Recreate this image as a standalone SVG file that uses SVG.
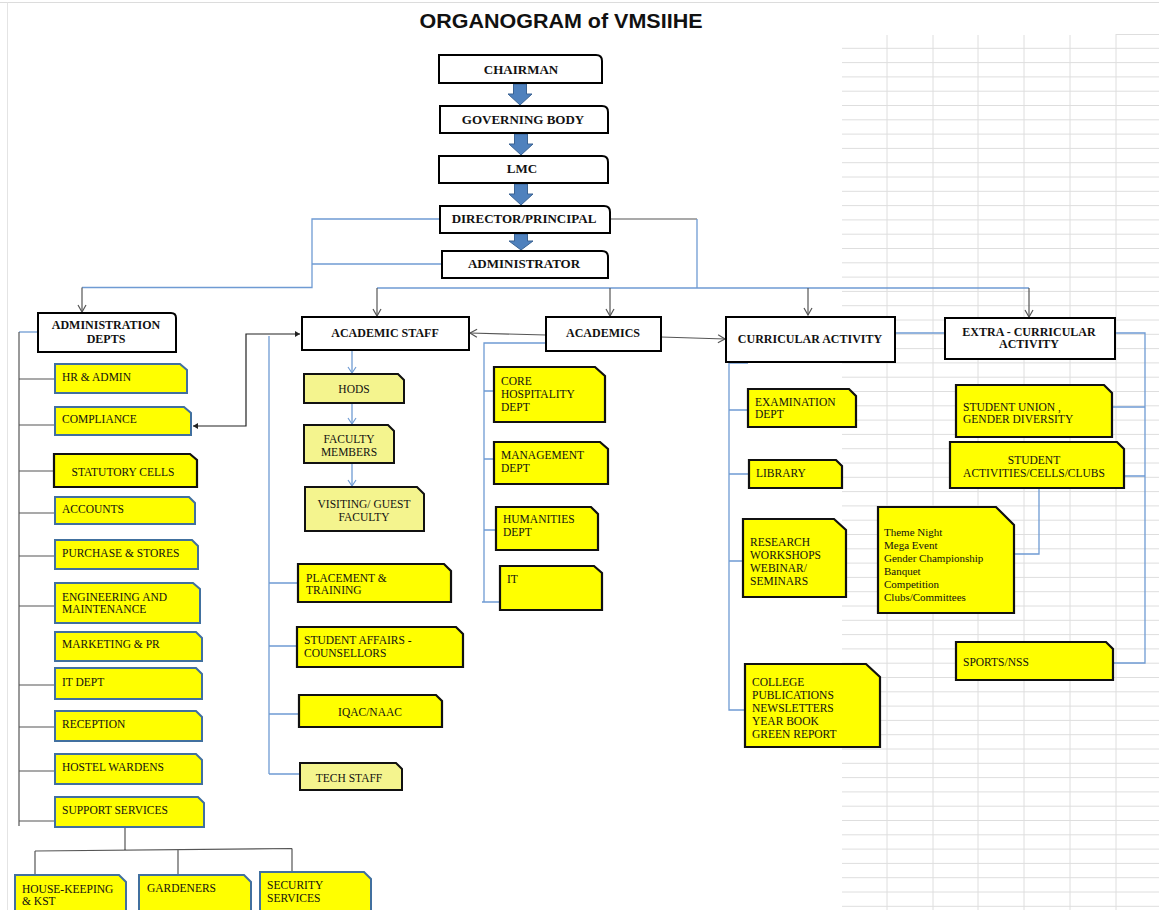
<svg xmlns="http://www.w3.org/2000/svg" width="1159" height="910" viewBox="0 0 1159 910">
<style>
.bg{fill:#fff}
.grid line{stroke:#dedede;stroke-width:1}
.hdr{fill:#fff;stroke:#000;stroke-width:2}
.y{fill:#ffff00;stroke:#111;stroke-width:2.2}
.yb{fill:#ffff00;stroke:#41709f;stroke-width:2}
.py{fill:#f4f48e;stroke:#111;stroke-width:2}
.blk{fill:#4f81bd;stroke:#3a6393;stroke-width:1}
text{font-family:"Liberation Serif","Times New Roman",serif;fill:#111}
.b{font-weight:bold;font-size:12px}
.bh{font-weight:bold;font-size:13px}
.t{font-size:11.5px}
.s{font-size:11px}
.c{text-anchor:middle}
.cb{fill:none;stroke:#6f9bd3;stroke-width:1.3}
.cg{fill:none;stroke:#555;stroke-width:1.2}
.ck{fill:none;stroke:#222;stroke-width:1.2}
</style>
<defs>
<marker id="av" markerUnits="userSpaceOnUse" markerWidth="12" markerHeight="12" refX="8" refY="5" orient="auto">
<path d="M1,1 L8,5 L1,9" fill="none" stroke="#555" stroke-width="1.2"/>
</marker>
<marker id="ab" markerUnits="userSpaceOnUse" markerWidth="12" markerHeight="12" refX="8" refY="5" orient="auto">
<path d="M2,1 L8,5 L2,9" fill="none" stroke="#6f9bd3" stroke-width="1.2"/>
</marker>
<marker id="af" markerUnits="userSpaceOnUse" markerWidth="8" markerHeight="8" refX="5" refY="3" orient="auto-start-reverse">
<path d="M0,0 L5,3 L0,6 Z" fill="#222"/>
</marker>
</defs>
<rect class="bg" x="0" y="0" width="1159" height="910"/>
<g id="sheet">
<line x1="0" y1="2.5" x2="1159" y2="2.5" stroke="#dcdcdc"/>
<line x1="7.5" y1="2.5" x2="7.5" y2="910" stroke="#e4e4e4"/>
</g>
<g class="grid" id="grid">
<line x1="887" y1="35" x2="887" y2="910"/><line x1="933" y1="35" x2="933" y2="910"/><line x1="978" y1="35" x2="978" y2="910"/><line x1="1024" y1="35" x2="1024" y2="910"/><line x1="1070" y1="35" x2="1070" y2="910"/><line x1="1116" y1="34" x2="1116" y2="910"/>
<line x1="1116" y1="34.5" x2="1159" y2="34.5"/>
<line x1="842" y1="48.3" x2="1159" y2="48.3"/><line x1="842" y1="62.6" x2="1159" y2="62.6"/><line x1="842" y1="76.9" x2="1159" y2="76.9"/><line x1="842" y1="91.2" x2="1159" y2="91.2"/><line x1="842" y1="105.5" x2="1159" y2="105.5"/><line x1="842" y1="119.8" x2="1159" y2="119.8"/><line x1="842" y1="134.1" x2="1159" y2="134.1"/><line x1="842" y1="148.4" x2="1159" y2="148.4"/><line x1="842" y1="162.7" x2="1159" y2="162.7"/><line x1="842" y1="177" x2="1159" y2="177"/><line x1="842" y1="191.3" x2="1159" y2="191.3"/><line x1="842" y1="205.6" x2="1159" y2="205.6"/><line x1="842" y1="219.9" x2="1159" y2="219.9"/><line x1="842" y1="234.2" x2="1159" y2="234.2"/><line x1="842" y1="248.5" x2="1159" y2="248.5"/><line x1="842" y1="262.8" x2="1159" y2="262.8"/><line x1="842" y1="277.1" x2="1159" y2="277.1"/><line x1="842" y1="291.4" x2="1159" y2="291.4"/><line x1="842" y1="305.7" x2="1159" y2="305.7"/><line x1="842" y1="320" x2="1159" y2="320"/><line x1="842" y1="334.3" x2="1159" y2="334.3"/><line x1="842" y1="348.6" x2="1159" y2="348.6"/><line x1="842" y1="362.9" x2="1159" y2="362.9"/><line x1="842" y1="377.2" x2="1159" y2="377.2"/><line x1="842" y1="391.5" x2="1159" y2="391.5"/><line x1="842" y1="405.8" x2="1159" y2="405.8"/><line x1="842" y1="420.1" x2="1159" y2="420.1"/><line x1="842" y1="434.4" x2="1159" y2="434.4"/><line x1="842" y1="448.7" x2="1159" y2="448.7"/><line x1="842" y1="463" x2="1159" y2="463"/><line x1="842" y1="477.3" x2="1159" y2="477.3"/><line x1="842" y1="491.6" x2="1159" y2="491.6"/><line x1="842" y1="505.9" x2="1159" y2="505.9"/><line x1="842" y1="520.2" x2="1159" y2="520.2"/><line x1="842" y1="534.5" x2="1159" y2="534.5"/><line x1="842" y1="548.8" x2="1159" y2="548.8"/><line x1="842" y1="563.1" x2="1159" y2="563.1"/><line x1="842" y1="577.4" x2="1159" y2="577.4"/><line x1="842" y1="591.7" x2="1159" y2="591.7"/><line x1="842" y1="606" x2="1159" y2="606"/><line x1="842" y1="620.3" x2="1159" y2="620.3"/><line x1="842" y1="634.6" x2="1159" y2="634.6"/><line x1="842" y1="648.9" x2="1159" y2="648.9"/><line x1="842" y1="663.2" x2="1159" y2="663.2"/><line x1="842" y1="677.5" x2="1159" y2="677.5"/><line x1="842" y1="691.8" x2="1159" y2="691.8"/><line x1="842" y1="706.1" x2="1159" y2="706.1"/><line x1="842" y1="720.4" x2="1159" y2="720.4"/><line x1="842" y1="734.7" x2="1159" y2="734.7"/><line x1="842" y1="749" x2="1159" y2="749"/><line x1="842" y1="763.3" x2="1159" y2="763.3"/><line x1="842" y1="777.6" x2="1159" y2="777.6"/><line x1="842" y1="791.9" x2="1159" y2="791.9"/><line x1="842" y1="806.2" x2="1159" y2="806.2"/><line x1="842" y1="820.5" x2="1159" y2="820.5"/><line x1="842" y1="834.8" x2="1159" y2="834.8"/><line x1="842" y1="849.1" x2="1159" y2="849.1"/><line x1="842" y1="863.4" x2="1159" y2="863.4"/><line x1="842" y1="877.7" x2="1159" y2="877.7"/><line x1="842" y1="892" x2="1159" y2="892"/><line x1="842" y1="906.3" x2="1159" y2="906.3"/>
</g>
<text x="561" y="28" text-anchor="middle" style="font-family:'Liberation Sans',Arial,sans-serif;font-weight:bold;font-size:21px" textLength="283" lengthAdjust="spacingAndGlyphs">ORGANOGRAM of VMSIIHE</text>
<g id="connectors">
<polygon class="blk" points="513.5,84 526.5,84 526.5,94 532,94 520,105 508,94 513.5,94"/>
<polygon class="blk" points="514.5,134 527.5,134 527.5,144 533,144 521,155 509,144 514.5,144"/>
<polygon class="blk" points="514.5,184 527.5,184 527.5,194 533,194 521,205 509,194 514.5,194"/>
<polygon class="blk" points="514.5,234 527.5,234 527.5,241 533,241 521,250 509,241 514.5,241"/>
<path class="cb" d="M440,219 H312 V287.5 H82"/>
<path class="cb" d="M442,264 H312"/>
<path class="cg" d="M82,287.5 V312" marker-end="url(#av)"/>
<path class="cg" d="M610,219 H697"/>
<path class="cb" d="M697,219 V288 M377,288 H1029"/>
<path class="cg" d="M377,288 V316" marker-end="url(#av)"/>
<path class="cg" d="M610,288 V316" marker-end="url(#av)"/>
<path class="cg" d="M808,288 V315" marker-end="url(#av)"/>
<path class="cg" d="M1029,288 V317" marker-end="url(#av)"/>
<path class="cb" d="M38,332 H19"/>
<path class="cg" d="M19,332 V826"/>
<path class="cg" d="M19,379 H55 M19,425 H55 M19,471 H54 M19,513 H55 M19,556 H55 M19,606 H55 M19,685 H55 M19,727 H55 M19,771 H55 M19,821 H55"/>
<path class="cg" d="M125,827 V850 M35,851 L292,848.5 M35,851 V875 M178,850 V875 M292,848.5 V872"/>
<path class="ck" d="M300,334 H246 V426 H193" marker-start="url(#af)" marker-end="url(#af)"/>
<path class="cg" d="M546,335 L470,333" marker-end="url(#av)"/>
<path class="cg" d="M661,337 L725,339" marker-end="url(#av)"/>
<path class="cb" d="M352,350 V373" marker-end="url(#ab)"/>
<path class="cb" d="M352,403 V424" marker-end="url(#ab)"/>
<path class="cb" d="M352,463 V486" marker-end="url(#ab)"/>
<path class="cb" d="M269,336 V774 M269,583 H298 M269,646 H297 M269,714 H299 M269,774 H300"/>
<path class="cb" d="M546,343 H484 V602 M484,391 H494 M484,459 H494 M484,530 H496 M482,602 H500"/>
<path class="cb" d="M748,363 H729 V710 H745 M729,410 H748 M729,474 H749 M729,561 H743"/>
<path class="cb" d="M895,333 H945"/>
<path class="cb" d="M1115,333 H1145 V663 H1113 M1112,407 H1145 M1124,476 H1145"/>
<path class="cb" d="M1039,488 V554 H1014"/>
</g>
<g id="chairman"><path class="hdr" d="M439,55 H596 Q602,55 602,61 V83 H439 Z"/><text class="bh c" x="521" y="74">CHAIRMAN</text></g>
<g id="governing-body"><path class="hdr" d="M440,106 H602 Q608,106 608,112 V133 H440 Z"/><text class="bh c" x="523" y="124">GOVERNING BODY</text></g>
<g id="lmc"><path class="hdr" d="M439,156 H602 Q608,156 608,162 V183 H439 Z"/><text class="bh c" x="522" y="173">LMC</text></g>
<g id="director"><path class="hdr" d="M440,206 H604 Q610,206 610,212 V233 H440 Z"/><text class="bh c" x="524" y="223">DIRECTOR/PRINCIPAL</text></g>
<g id="administrator"><path class="hdr" d="M442,251 H602 Q608,251 608,257 V278 H442 Z"/><text class="bh c" x="524" y="268">ADMINISTRATOR</text></g>
<g id="admin-depts"><path class="hdr" d="M38,313 H171 Q176,313 176,318 V352 H38 Z"/><text class="b c" x="106" y="329">ADMINISTRATION</text><text class="b c" x="106" y="343">DEPTS</text></g>
<g id="academic-staff"><rect class="hdr" x="302" y="317" width="167" height="33"/><text class="b c" x="385" y="337">ACADEMIC  STAFF</text></g>
<g id="academics"><rect class="hdr" x="546" y="317" width="115" height="34"/><text class="b c" x="603" y="337">ACADEMICS</text></g>
<g id="curricular"><rect class="hdr" x="726" y="317" width="169" height="45"/><text class="b c" x="810" y="343">CURRICULAR  ACTIVITY</text></g>
<g id="extra-curricular"><rect class="hdr" x="945" y="318" width="170" height="41"/><text class="b c" x="1029" y="336">EXTRA - CURRICULAR</text><text class="b c" x="1029" y="348">ACTIVITY</text></g>
<g id="hr-admin"><path class="yb" d="M55,364 H180 L187,370 V393 H55 Z"/><text class="t" x="62" y="381">HR &amp; ADMIN</text></g>
<g id="compliance"><path class="yb" d="M55,407 H184 L191,413 V435 H55 Z"/><text class="t" x="62" y="423">COMPLIANCE</text></g>
<g id="statutory-cells"><path class="y" d="M54,454 H190 L197,460 V487 H54 Z"/><text class="t c" x="123" y="476">STATUTORY  CELLS</text></g>
<g id="accounts"><path class="yb" d="M55,497 H189 L195,503 V524 H55 Z"/><text class="t" x="62" y="513">ACCOUNTS</text></g>
<g id="purchase"><path class="yb" d="M55,540 H192 L198,546 V569 H55 Z"/><text class="t" x="62" y="557">PURCHASE  &amp; STORES</text></g>
<g id="engineering"><path class="yb" d="M55,583 H193 L200,589 V623 H55 Z"/><text class="t" x="62" y="601">ENGINEERING  AND</text><text class="t" x="62" y="613">MAINTENANCE</text></g>
<g id="marketing"><path class="yb" d="M55,632 H196 L202,638 V661 H55 Z"/><text class="t" x="62" y="648">MARKETING  &amp; PR</text></g>
<g id="it-dept"><path class="yb" d="M55,668 H196 L202,674 V699 H55 Z"/><text class="t" x="62" y="686">IT  DEPT</text></g>
<g id="reception"><path class="yb" d="M55,711 H196 L202,717 V741 H55 Z"/><text class="t" x="62" y="728">RECEPTION</text></g>
<g id="hostel"><path class="yb" d="M55,754 H196 L202,760 V784 H55 Z"/><text class="t" x="62" y="771">HOSTEL WARDENS</text></g>
<g id="support"><path class="yb" d="M55,797 H198 L204,803 V827 H55 Z"/><text class="t" x="62" y="814">SUPPORT SERVICES</text></g>
<g id="housekeeping"><path class="yb" d="M15,875 H119 L126,882 V915 H15 Z"/><text class="t" x="22" y="893">HOUSE-KEEPING</text><text class="t" x="22" y="905">&amp; KST</text></g>
<g id="gardeners"><path class="yb" d="M139,875 H244 L251,882 V915 H139 Z"/><text class="t" x="147" y="892">GARDENERS</text></g>
<g id="security"><path class="yb" d="M260,872 H364 L371,879 V915 H260 Z"/><text class="t" x="267" y="889">SECURITY</text><text class="t" x="267" y="902">SERVICES</text></g>
<g id="hods"><path class="py" d="M304,374 H398 L404,380 V403 H304 Z"/><text class="t c" x="354" y="393">HODS</text></g>
<g id="faculty"><path class="py" d="M304,425 H388 L394,431 V463 H304 Z"/><text class="t c" x="349" y="443">FACULTY</text><text class="t c" x="349" y="456">MEMBERS</text></g>
<g id="visiting"><path class="py" d="M305,487 H417 L424,494 V531 H305 Z"/><text class="t c" x="364" y="508">VISITING/  GUEST</text><text class="t c" x="364" y="521">FACULTY</text></g>
<g id="placement"><path class="y" d="M298,564 H444 L451,571 V602 H298 Z"/><text class="t" x="306" y="582">PLACEMENT  &amp;</text><text class="t" x="306" y="594">TRAINING</text></g>
<g id="student-affairs"><path class="y" d="M297,627 H456 L463,634 V667 H297 Z"/><text class="t" x="304" y="644">STUDENT  AFFAIRS  -</text><text class="t" x="304" y="657">COUNSELLORS</text></g>
<g id="iqac"><path class="y" d="M299,695 H436 L442,701 V727 H299 Z"/><text class="t c" x="370" y="716">IQAC/NAAC</text></g>
<g id="tech-staff"><path class="py" d="M300,763 H396 L402,769 V790 H300 Z"/><text class="t c" x="349" y="782">TECH  STAFF</text></g>
<g id="core"><path class="y" d="M494,367 H595 L605,376 V422 H494 Z"/><text class="t" x="501" y="385">CORE</text><text class="t" x="501" y="398">HOSPITALITY</text><text class="t" x="501" y="411">DEPT</text></g>
<g id="management"><path class="y" d="M494,442 H600 L608,449 V484 H494 Z"/><text class="t" x="501" y="459">MANAGEMENT</text><text class="t" x="501" y="472">DEPT</text></g>
<g id="humanities"><path class="y" d="M496,507 H591 L598,514 V550 H496 Z"/><text class="t" x="503" y="523">HUMANITIES</text><text class="t" x="503" y="536">DEPT</text></g>
<g id="it"><path class="y" d="M500,566 H594 L602,573 V610 H500 Z"/><text class="t" x="507" y="583">IT</text></g>
<g id="examination"><path class="y" d="M748,389 H849 L856,396 V427 H748 Z"/><text class="t" x="755" y="406">EXAMINATION</text><text class="t" x="755" y="418">DEPT</text></g>
<g id="library"><path class="y" d="M749,460 H836 L842,466 V488 H749 Z"/><text class="t" x="756" y="477">LIBRARY</text></g>
<g id="research"><path class="y" d="M743,519 H834 L846,530 V597 H743 Z"/><text class="t" x="750" y="546">RESEARCH</text><text class="t" x="750" y="559">WORKSHOPS</text><text class="t" x="750" y="572">WEBINAR/</text><text class="t" x="750" y="585">SEMINARS</text></g>
<g id="college"><path class="y" d="M745,664 H866 L880,677 V747 H745 Z"/><text class="t" x="752" y="686">COLLEGE</text><text class="t" x="752" y="699">PUBLICATIONS</text><text class="t" x="752" y="712">NEWSLETTERS</text><text class="t" x="752" y="725">YEAR  BOOK</text><text class="t" x="752" y="738">GREEN  REPORT</text></g>
<g id="student-union"><path class="y" d="M956,385 H1104 L1112,393 V437 H956 Z"/><text class="t" x="963" y="411">STUDENT  UNION ,</text><text class="t" x="963" y="423">GENDER  DIVERSITY</text></g>
<g id="student-activities"><path class="y" d="M950,442 H1117 L1124,449 V488 H950 Z"/><text class="t c" x="1034" y="464">STUDENT</text><text class="t c" x="1034" y="477">ACTIVITIES/CELLS/CLUBS</text></g>
<g id="events"><path class="y" d="M878,507 H996 L1014,525 V613 H878 Z"/><text class="s" x="884" y="536">Theme  Night</text><text class="s" x="884" y="549">Mega Event</text><text class="s" x="884" y="562">Gender  Championship</text><text class="s" x="884" y="575">Banquet</text><text class="s" x="884" y="588">Competition</text><text class="s" x="884" y="601">Clubs/Committees</text></g>
<g id="sports"><path class="y" d="M956,642 H1106 L1113,649 V680 H956 Z"/><text class="t" x="963" y="666">SPORTS/NSS</text></g>
</svg>
